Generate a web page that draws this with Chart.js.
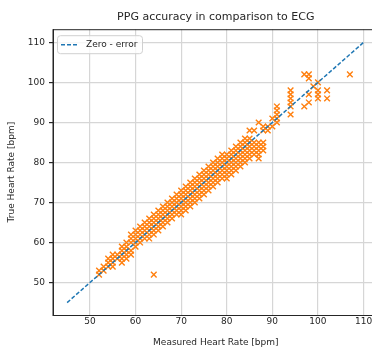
<!DOCTYPE html>
<html>
<head>
<meta charset="utf-8">
<script src="https://cdn.jsdelivr.net/npm/chart.js@4.4.1/dist/chart.umd.min.js"></script>
<style>
  html, body { margin: 0; padding: 0; background: #fff; overflow: hidden; }
  #wrap { width: 384px; height: 348px; }
</style>
</head>
<body>
<div id="wrap"><canvas id="myChart" width="384" height="348"></canvas></div>
<script>
// measured (PPG) vs true (ECG) heart rate, one entry per sample
const measuredHR = [
  52, 52, 53, 53, 54, 54, 54, 55, 55, 55, 55, 56, 56,
  57, 57, 57, 57, 57, 58, 58, 58, 58, 58, 59, 59, 59, 59, 59,
  60, 60, 60, 60, 60, 61, 61, 61, 61, 61, 62, 62, 62, 62, 62,
  63, 63, 63, 63, 63, 63, 64, 64, 64, 64, 64, 64, 64,
  65, 65, 65, 65, 65, 65, 66, 66, 66, 66, 66, 66,
  67, 67, 67, 67, 67, 67, 68, 68, 68, 68, 68, 68,
  69, 69, 69, 69, 69, 69, 70, 70, 70, 70, 70, 70, 70,
  71, 71, 71, 71, 71, 71, 71, 72, 72, 72, 72, 72, 72, 72,
  73, 73, 73, 73, 73, 73, 73, 74, 74, 74, 74, 74, 74, 74,
  75, 75, 75, 75, 75, 75, 75, 76, 76, 76, 76, 76, 76, 76,
  77, 77, 77, 77, 77, 77, 77, 78, 78, 78, 78, 78, 78, 78,
  79, 79, 79, 79, 79, 79, 79, 80, 80, 80, 80, 80, 80, 80,
  81, 81, 81, 81, 81, 81, 81, 82, 82, 82, 82, 82, 82, 82,
  83, 83, 83, 83, 83, 83, 83, 84, 84, 84, 84, 84, 84, 84,
  85, 85, 85, 85, 85, 85, 85, 86, 86, 86, 86, 86,
  87, 87, 87, 87, 87, 87, 88, 88, 88, 88, 88,
  89, 89, 90, 90, 91, 91, 91, 91, 91,
  94, 94, 94, 94, 94, 94, 97, 97, 98, 98, 98, 98, 99,
  100, 100, 100, 100, 102, 102, 107
];
const trueHR = [
  52, 53, 53, 54, 54, 55, 56, 54, 55, 56, 57, 56, 57,
  55, 56, 57, 58, 59, 56, 57, 58, 59, 60, 57, 58, 60, 61, 62,
  59, 60, 61, 62, 63, 60, 61, 62, 63, 64, 61, 62, 63, 64, 65,
  61, 62, 63, 64, 65, 66, 52, 62, 63, 64, 65, 66, 67,
  63, 64, 65, 66, 67, 68, 64, 65, 66, 67, 68, 69,
  65, 66, 67, 68, 69, 70, 66, 67, 68, 69, 70, 71,
  67, 68, 69, 70, 71, 72, 67, 68, 69, 70, 71, 72, 73,
  68, 69, 70, 71, 72, 73, 74, 69, 70, 71, 72, 73, 74, 75,
  70, 71, 72, 73, 74, 75, 76, 71, 72, 73, 74, 75, 76, 77,
  72, 73, 74, 75, 76, 77, 78, 73, 74, 75, 76, 77, 78, 79,
  74, 75, 76, 77, 78, 79, 80, 75, 76, 77, 78, 79, 80, 81,
  76, 77, 78, 79, 80, 81, 82, 76, 77, 78, 79, 80, 81, 82,
  77, 78, 79, 80, 81, 82, 83, 78, 79, 80, 81, 82, 83, 84,
  79, 80, 81, 82, 83, 84, 85, 80, 81, 82, 83, 84, 85, 86,
  81, 82, 83, 84, 85, 86, 88, 82, 83, 84, 85, 88,
  81, 82, 83, 84, 85, 90, 83, 84, 85, 88, 89,
  88, 89, 89, 91, 90, 91, 92, 93, 94,
  92, 94, 95, 96, 97, 98, 94, 102, 95, 97, 101, 102, 99,
  96, 97, 98, 100, 96, 98, 102
];
// zero-error reference line
const refX = [45, 110];
const refY = [45, 110];
const tickVals = [50, 60, 70, 80, 90, 100, 110];

const FONT = 'DejaVu Sans';
const TXT = '#262626';

const legendBox = {
  id: 'legendBox',
  afterDatasetsDraw(chart) {
    const {ctx, chartArea} = chart;
    const ds = chart.data.datasets[0];
    const x = chartArea.left + 4, y = chartArea.top + 6, w = 85, h = 18;
    ctx.save();
    ctx.fillStyle = 'rgba(255,255,255,0.8)';
    ctx.strokeStyle = '#d0d0d0';
    ctx.lineWidth = 1;
    ctx.beginPath();
    ctx.roundRect(x + 0.5, y + 0.5, w, h, 3);
    ctx.fill();
    ctx.stroke();
    ctx.strokeStyle = ds.borderColor;
    ctx.lineWidth = 1.5;
    ctx.setLineDash(ds.borderDash);
    ctx.beginPath();
    ctx.moveTo(x + 4, y + 9.5);
    ctx.lineTo(x + 22, y + 9.5);
    ctx.stroke();
    ctx.setLineDash([]);
    ctx.fillStyle = TXT;
    ctx.font = '9px "' + FONT + '"';
    ctx.textBaseline = 'middle';
    ctx.fillText(ds.label, x + 29, y + 9.5);
    // frame
    ctx.strokeStyle = '#262626';
    ctx.lineWidth = 1;
    ctx.strokeRect(chartArea.left, chartArea.top + 0.5, chartArea.right - chartArea.left, chartArea.bottom - chartArea.top);
    ctx.restore();
  }
};

new Chart(document.getElementById('myChart'), {
  data: {
    datasets: [
      {
        type: 'line',
        label: 'Zero - error',
        data: refX.map((v, i) => ({x: v, y: refY[i]})),
        borderColor: '#1f77b4',
        borderWidth: 1.5,
        borderDash: [4, 2],
        pointRadius: 0,
        fill: false
      },
      {
        type: 'scatter',
        label: '',
        data: measuredHR.map((v, i) => ({x: v, y: trueHR[i]})),
        pointStyle: 'crossRot',
        pointRadius: 4,
        borderColor: '#ff7f0e',
        borderWidth: 1.4,
        backgroundColor: '#ff7f0e'
      }
    ]
  },
  plugins: [legendBox],
  options: {
    responsive: false,
    animation: false,
    events: [],
    layout: { padding: { top: 11, left: 0, right: 0, bottom: 0 } },
    plugins: {
      legend: { display: false },
      tooltip: { enabled: false },
      title: {
        display: true,
        fullSize: false,
        text: 'PPG accuracy in comparison to ECG',
        color: TXT,
        font: { family: FONT, size: 11, weight: 'normal' },
        padding: { top: 0, bottom: 5 }
      }
    },
    scales: {
      x: {
        type: 'linear',
        min: 41.9,
        max: 113.3,
        afterBuildTicks: s => { s.ticks = tickVals.map(v => ({value: v})); },
        afterFit: s => { s.height = 33; },
        grid: { color: '#d6d6d6', lineWidth: 1.2, tickLength: 1, tickColor: '#262626' },
        border: { color: '#262626', width: 1 },
        ticks: { color: TXT, font: { family: FONT, size: 9 }, padding: 0, maxRotation: 0 },
        title: { display: true, text: 'Measured Heart Rate [bpm]', color: TXT,
                 font: { family: FONT, size: 9 }, padding: { top: 0, bottom: 0 } }
      },
      y: {
        type: 'linear',
        min: 41.9,
        max: 113.3,
        afterBuildTicks: s => { s.ticks = tickVals.map(v => ({value: v})); },
        afterFit: s => { s.width = 53; },
        grid: { color: '#d6d6d6', lineWidth: 1.2, tickLength: 4, tickColor: '#262626' },
        border: { color: '#262626', width: 1 },
        ticks: { color: TXT, font: { family: FONT, size: 9 }, padding: 4 },
        title: { display: true, text: 'True Heart Rate [bpm]', color: TXT,
                 font: { family: FONT, size: 9 }, padding: { top: 6, bottom: 0 } }
      }
    }
  }
});
</script>
</body>
</html>
